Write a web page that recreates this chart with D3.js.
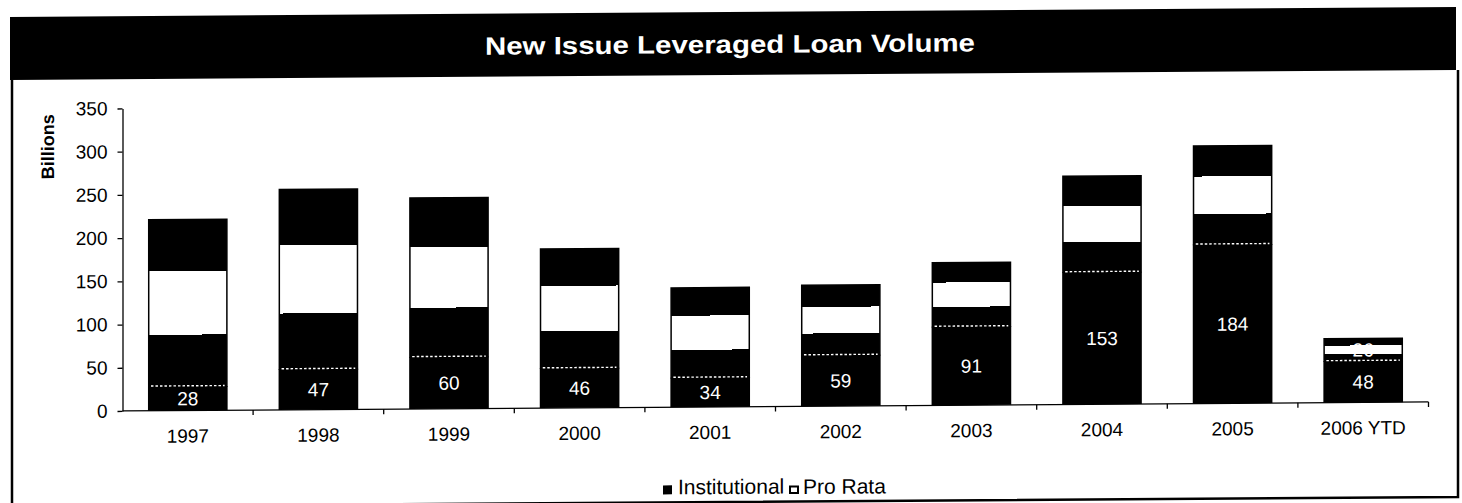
<!DOCTYPE html>
<html>
<head>
<meta charset="utf-8">
<script src="https://cdn.jsdelivr.net/npm/d3@7"></script>
<style>
  html, body { margin: 0; padding: 0; background: #fff; }
  svg { display: block; }
  text { font-family: "Liberation Sans", Arial, Helvetica, sans-serif; }
</style>
</head>
<body>
<svg id="chart" width="1462" height="503"></svg>
<script>
// New issue leveraged loan volume, $ billions
const categories = ["1997", "1998", "1999", "2000", "2001", "2002", "2003", "2004", "2005", "2006 YTD"];
const institutional = [28, 47, 60, 46, 34, 59, 91, 153, 184, 48];
const proRata = [193, 208, 184, 138, 104, 81, 74, 111, 114, 26];
const yTickValues = [0, 50, 100, 150, 200, 250, 300, 350];
const seriesNames = ["Institutional", "Pro Rata"];
const titleText = "New Issue Leveraged Loan Volume";
const yAxisTitle = "Billions";

const svg = d3.select("#chart");
const defs = svg.append("defs");

// Pro Rata fill: dark edges with a light centre band
const grad = defs.append("linearGradient")
  .attr("id", "proRataFill")
  .attr("x1", 0).attr("y1", 0).attr("x2", 0).attr("y2", 1);
[[0, "#000"], [0.31, "#000"], [0.31, "#fff"], [0.69, "#fff"], [0.69, "#000"], [1, "#000"]]
  .forEach(([o, c]) => grad.append("stop").attr("offset", o).attr("stop-color", c));

// The printed page leans very slightly
const page = svg.append("g").attr("transform", "skewY(-0.395)");

// Title banner and frame
page.append("rect")
  .attr("x", 10).attr("y", 17).attr("width", 1446).attr("height", 63)
  .attr("fill", "#000");
page.append("path")
  .attr("d", "M12,80V507H1458V80")
  .attr("fill", "none").attr("stroke", "#000").attr("stroke-width", 2.5);
page.append("text")
  .attr("x", 730).attr("y", 58)
  .attr("text-anchor", "middle")
  .attr("fill", "#fff")
  .attr("font-size", 25).attr("font-weight", "bold")
  .attr("textLength", 490).attr("lengthAdjust", "spacingAndGlyphs")
  .text(titleText);

// Scales
const x = d3.scaleBand()
  .domain(categories)
  .range([122.5, 1428.5])
  .paddingInner(0.39)
  .paddingOuter(0.195);
const y = d3.scaleLinear().domain([0, 350]).range([411.8, 109.3]);

// Y axis
const yAxis = page.append("g")
  .attr("transform", `translate(${x.range()[0]},0)`)
  .call(d3.axisLeft(y).tickValues(yTickValues).tickSize(5).tickSizeOuter(0).tickPadding(10));
yAxis.selectAll("path, line").attr("stroke", "#000").attr("stroke-width", 1.3);
yAxis.selectAll("text")
  .attr("font-size", 19).attr("fill", "#000")
  .style("font-family", '"Liberation Sans", Arial, sans-serif');

page.append("text")
  .attr("transform", "translate(53.5,147) rotate(-90)")
  .attr("text-anchor", "middle")
  .attr("font-size", 18).attr("font-weight", "bold")
  .text(yAxisTitle);

// X axis line with ticks between categories
const step = x.step();
const x0 = x.range()[0];
page.append("line")
  .attr("x1", x0).attr("x2", x.range()[1])
  .attr("y1", y(0)).attr("y2", y(0))
  .attr("stroke", "#000").attr("stroke-width", 1.3);
page.append("g").selectAll("line")
  .data(d3.range(1, categories.length + 1))
  .join("line")
  .attr("x1", i => x0 + i * step).attr("x2", i => x0 + i * step)
  .attr("y1", y(0)).attr("y2", y(0) + 5)
  .attr("stroke", "#000").attr("stroke-width", 1.3);
page.append("g").selectAll("text")
  .data(categories)
  .join("text")
  .attr("x", d => x(d) + x.bandwidth() / 2)
  .attr("y", y(0) + 32)
  .attr("text-anchor", "middle")
  .attr("font-size", 19)
  .text(d => d);

// Stacked bars
const rows = categories.map((c, i) => ({ cat: c, Institutional: institutional[i], "Pro Rata": proRata[i] }));
const stacked = d3.stack().keys(seriesNames)(rows);

const bars = page.append("g");
bars.append("g").selectAll("rect")
  .data(stacked[0])
  .join("rect")
  .attr("x", d => x(d.data.cat))
  .attr("width", x.bandwidth())
  .attr("y", d => y(d[1]))
  .attr("height", d => y(d[0]) - y(d[1]))
  .attr("fill", "#000");
bars.append("g").selectAll("rect")
  .data(stacked[1])
  .join("rect")
  .attr("x", d => x(d.data.cat) + 0.75)
  .attr("width", x.bandwidth() - 1.5)
  .attr("y", d => y(d[1]))
  .attr("height", d => y(d[0]) - y(d[1]))
  .attr("fill", "url(#proRataFill)")
  .attr("stroke", "#000").attr("stroke-width", 1.5);

// Dotted boundary between the two segments
bars.append("g").selectAll("line")
  .data(stacked[0])
  .join("line")
  .attr("x1", d => x(d.data.cat) + 3)
  .attr("x2", d => x(d.data.cat) + x.bandwidth() - 3)
  .attr("y1", d => y(d[1]) - 0.5).attr("y2", d => y(d[1]) - 0.5)
  .attr("stroke", "#fff").attr("stroke-width", 1.4)
  .attr("stroke-dasharray", "2.5,2");

// Value labels centred in each segment
stacked.forEach(series => {
  page.append("g").selectAll("text")
    .data(series)
    .join("text")
    .attr("x", d => x(d.data.cat) + x.bandwidth() / 2)
    .attr("y", d => y((d[0] + d[1]) / 2))
    .attr("dy", "0.36em")
    .attr("text-anchor", "middle")
    .attr("font-size", 19)
    .attr("fill", "#fff")
    .text(d => d[1] - d[0]);
});

// Legend
const legend = page.append("g");
legend.append("rect")
  .attr("x", 663).attr("y", 490).attr("width", 9).attr("height", 9)
  .attr("fill", "#000");
legend.append("text")
  .attr("x", 678).attr("y", 499)
  .attr("font-size", 21)
  .text(seriesNames[0]);
legend.append("rect")
  .attr("x", 790).attr("y", 492).attr("width", 8).attr("height", 6.5)
  .attr("fill", "#fff").attr("stroke", "#000").attr("stroke-width", 2);
legend.append("text")
  .attr("x", 803).attr("y", 499.5)
  .attr("font-size", 21)
  .text(seriesNames[1]);
</script>
</body>
</html>
